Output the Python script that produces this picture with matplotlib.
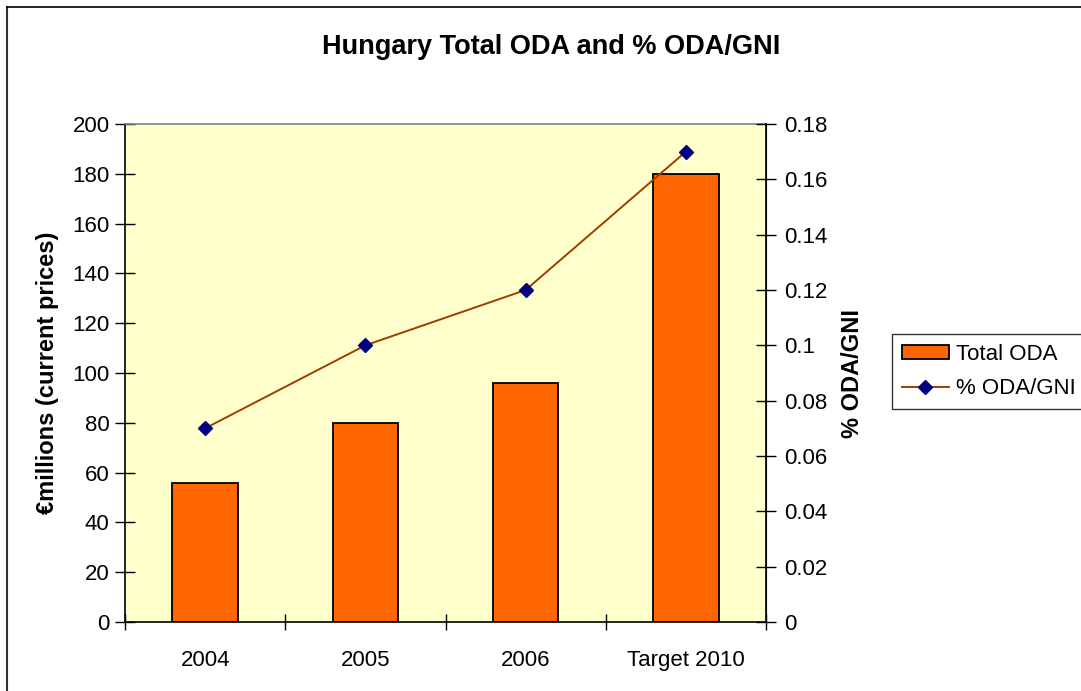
import matplotlib
matplotlib.use("Agg")
import matplotlib.pyplot as plt
from matplotlib.lines import Line2D
from matplotlib.ticker import FuncFormatter, MultipleLocator

plt.rcParams['font.family'] = ['Liberation Sans', 'DejaVu Sans']

categories = ["2004", "2005", "2006", "Target 2010"]
total_oda = [56, 80, 96, 180]
oda_gni = [0.07, 0.10, 0.12, 0.17]

W, H = 1081, 691
fig = plt.figure(figsize=(W / 100, H / 100), dpi=100)
fig.patch.set_facecolor('white')

# outer frame (left and top edges visible)
fig.add_artist(Line2D([7 / W, 7 / W], [0, 1 - 7 / H], transform=fig.transFigure,
                      color='#333333', lw=1.5))
fig.add_artist(Line2D([7 / W, 1], [1 - 7 / H, 1 - 7 / H], transform=fig.transFigure,
                      color='black', lw=1.2))

left, right, top, bottom = 125, 766, 124, 622
ax = fig.add_axes([left / W, 1 - bottom / H, (right - left) / W, (bottom - top) / H])
ax.set_facecolor('#FFFFCC')

x = list(range(len(categories)))
ax.bar(x, total_oda, width=0.41, color='#FF6600', edgecolor='black', linewidth=1.3,
       label='Total ODA', zorder=2)
ax.set_xlim(-0.5, len(categories) - 0.5)
ax.set_ylim(0, 200)
ax.yaxis.set_major_locator(MultipleLocator(20))
ax.set_xticks(x)
ax.set_xticklabels(categories)
ax.set_xticks([i - 0.5 for i in range(len(categories) + 1)], minor=True)
ax.tick_params(axis='x', which='major', length=0, pad=20, labelsize=16)
ax.tick_params(axis='x', which='minor', direction='inout', length=12, width=1)
ax.tick_params(axis='y', direction='inout', length=14, width=1, labelsize=16, pad=4)
ax.set_ylabel('€millions (current prices)', fontsize=17, fontweight='bold', labelpad=10)
for s in ['left', 'bottom']:
    ax.spines[s].set_color('black')
    ax.spines[s].set_linewidth(1.2)
ax.spines['top'].set_color('#808080')
ax.spines['top'].set_linewidth(1.2)

ax2 = ax.twinx()
ax2.plot(x, oda_gni, color='#A33A00', lw=1.4, marker='D', markersize=7,
         markerfacecolor='#000080', markeredgecolor='#000080', label='% ODA/GNI', zorder=3)
ax2.set_ylim(0, 0.18)
ax2.yaxis.set_major_locator(MultipleLocator(0.02))
ax2.yaxis.set_major_formatter(FuncFormatter(lambda v, p: f"{round(v, 2):g}"))
ax2.tick_params(axis='y', direction='inout', length=14, width=1, labelsize=16, pad=6)
ax2.set_ylabel('% ODA/GNI', fontsize=17, fontweight='bold', labelpad=10)
ax2.spines['right'].set_color('black')
ax2.spines['right'].set_linewidth(1.2)
ax2.spines['top'].set_visible(False)
ax2.spines['left'].set_visible(False)
ax2.spines['bottom'].set_visible(False)

fig.text(551 / W, 1 - 47 / H, 'Hungary Total ODA and % ODA/GNI', ha='center', va='center',
         fontsize=19.5, fontweight='bold')

h1, l1 = ax.get_legend_handles_labels()
h2, l2 = ax2.get_legend_handles_labels()
leg = fig.legend(h1 + h2, l1 + l2, loc='upper left',
                 bbox_to_anchor=(892 / W, 1 - 334 / H), bbox_transform=fig.transFigure,
                 borderaxespad=0,
                 fontsize=16, frameon=True, fancybox=False, edgecolor='black',
                 handlelength=2.1, handleheight=0.6, borderpad=0.45, labelspacing=0.6,
                 handletextpad=0.35)
leg.get_frame().set_linewidth(1.0)

fig.savefig('out.png', dpi=100)
